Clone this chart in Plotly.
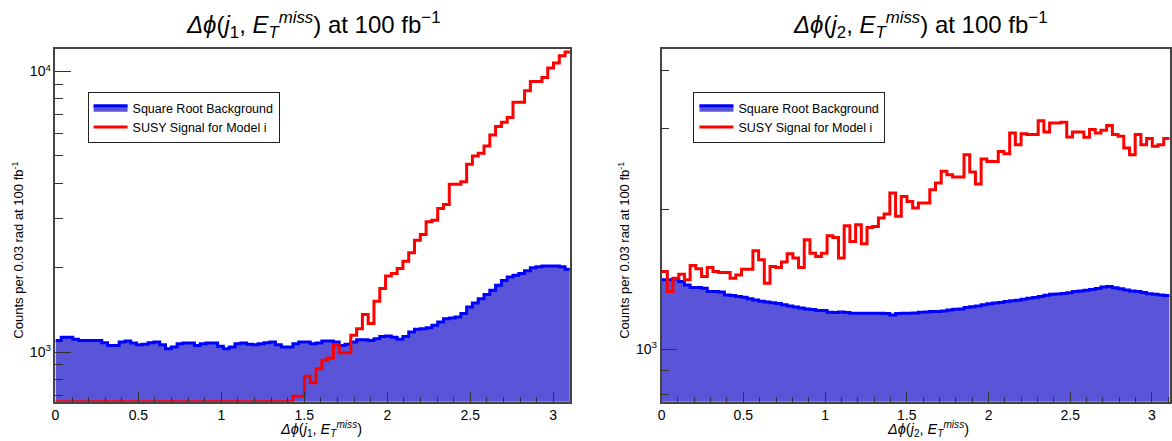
import numpy as np
import plotly.graph_objects as go

W, H = 1172, 441

# Histogram binning: 90 bins over [0, pi]; the axis is cut at ~3.1 rad
N_BINS = 90
BIN_W = np.pi / N_BINS

# Delta phi(j1, MET): background (square root) and signal, counts per bin
bkg_j1 = [
    1100, 1130, 1130, 1110, 1100, 1100, 1100, 1100, 1080, 1056,
    1056, 1085, 1095, 1077, 1062, 1065, 1080, 1085, 1062, 1028,
    1042, 1071, 1077, 1077, 1056, 1071, 1077, 1077, 1048, 1028,
    1042, 1071, 1077, 1065, 1062, 1071, 1080, 1085, 1062, 1042,
    1042, 1071, 1085, 1085, 1071, 1077, 1095, 1095, 1085, 1056,
    1065, 1085, 1106, 1106, 1100, 1116, 1137, 1140, 1128, 1110,
    1137, 1179, 1205, 1211, 1221, 1245, 1280, 1315, 1323, 1333,
    1371, 1448, 1496, 1550, 1602, 1660, 1729, 1798, 1853, 1879,
    1905, 1948, 1997, 2013, 2024, 2024, 2024, 2013, 1973,
]
sig_j1 = [
    0, 0, 0, 0, 0, 0, 0, 0, 0, 0,
    0, 0, 0, 0, 0, 0, 0, 0, 0, 0,
    0, 0, 0, 0, 0, 0, 0, 0, 0, 0,
    0, 0, 0, 0, 0, 0, 0, 0, 0, 0,
    0, 695, 695, 819, 777, 872, 934, 952, 1062, 995,
    995, 1147, 1211, 1360, 1263, 1517, 1684, 1868, 1905, 1984,
    2108, 2257, 2505, 2624, 2912, 2952, 3250, 3359, 3960, 3960,
    4047, 4667, 4998, 5109, 5427, 5940, 6362, 6592, 6850, 7773,
    7773, 8531, 9211, 9211, 9519, 10278, 10710, 11376, 11722,
]

# Delta phi(j2, MET)
bkg_j2 = [
    1412, 1412, 1418, 1400, 1377, 1360, 1359, 1355, 1332, 1332,
    1330, 1310, 1306, 1300, 1295, 1285, 1278, 1270, 1265, 1260,
    1255, 1247, 1240, 1234, 1228, 1222, 1218, 1212, 1212, 1202,
    1200, 1204, 1200, 1196, 1196, 1196, 1196, 1196, 1196, 1194,
    1186, 1194, 1196, 1196, 1198, 1202, 1204, 1206, 1206, 1210,
    1216, 1220, 1222, 1230, 1236, 1240, 1248, 1254, 1258, 1262,
    1268, 1272, 1276, 1282, 1288, 1294, 1300, 1308, 1314, 1316,
    1320, 1325, 1332, 1336, 1340, 1346, 1352, 1362, 1366, 1358,
    1350, 1343, 1336, 1332, 1326, 1318, 1314, 1310, 1306,
]
sig_j2 = [
    1471, 1332, 1423, 1452, 1412, 1516, 1491, 1435, 1501, 1471,
    1464, 1464, 1423, 1447, 1488, 1488, 1631, 1560, 1389, 1508,
    1501, 1542, 1607, 1573, 1501, 1722, 1612, 1586, 1612, 1757,
    1743, 1573, 1847, 1708, 1856, 1688, 1832, 1841, 1919, 1957,
    2173, 1935, 2137, 2084, 2016, 2067, 2067, 2209, 2284, 2420,
    2380, 2352, 2352, 2628, 2412, 2272, 2572, 2542, 2542, 2672,
    2641, 2928, 2763, 2918, 2904, 2904, 3112, 2943, 3077, 3077,
    3087, 2870, 2943, 2943, 2866, 2977, 2928, 2967, 3037, 2904,
    2880, 2717, 2628, 2904, 2763, 2847, 2740, 2763, 2847,
]

x_ticks = [0, 0.5, 1, 1.5, 2, 2.5, 3]
x_ticktext = ["0", "0.5", "1", "1.5", "2", "2.5", "3"]

FONT = "Liberation Sans, Arial, Helvetica, sans-serif"
FILL = "#5a55d8"
BLUE = "#0000ff"
RED = "#ff0000"


def px_x(p):
    return p / W


def px_y(p):
    return 1 - p / H


def step_xy(values, floor):
    v = np.maximum(np.asarray(values, dtype=float), floor)
    n = len(v)
    x = np.arange(n + 1) * BIN_W
    y = np.append(v, v[-1])
    return x, y


panels = [
    dict(bkg=bkg_j1, sig=sig_j1, idx=1, yrange=[2.823, 4.079],
         xdom=[px_x(51.7), px_x(568.7)], xrange=[0, 3.1],
         ymajor=[1000, 10000], ymajor_text=["10<sup>3</sup>", "10<sup>4</sup>"],
         yminor=[700, 800, 900, 2000, 3000, 4000, 5000, 6000, 7000, 8000, 9000],
         jet="1"),
    dict(bkg=bkg_j2, sig=sig_j2, idx=2, yrange=[2.887, 3.647],
         xdom=[px_x(661), 1.0], xrange=[0, (1172 - 661) / 164.3],
         ymajor=[1000], ymajor_text=["10<sup>3</sup>"],
         yminor=[800, 900, 2000, 3000, 4000],
         jet="2"),
]

fig = go.Figure()
layout = dict(
    width=W, height=H,
    margin=dict(l=0, r=0, t=0, b=0),
    paper_bgcolor="white", plot_bgcolor="white",
    font=dict(family=FONT, size=13, color="black"),
    annotations=[],
)

for p in panels:
    i = p["idx"]
    xa = "x" if i == 1 else f"x{i}"
    ya = "y" if i == 1 else f"y{i}"
    leg = "legend" if i == 1 else f"legend{i}"
    floor = 10 ** p["yrange"][0]

    bx, by = step_xy(p["bkg"], floor)
    fig.add_trace(go.Scatter(
        x=bx, y=by, mode="lines", line=dict(shape="hv", color=BLUE, width=3),
        fill="tozeroy", fillcolor=FILL, name="Square Root Background",
        xaxis=xa, yaxis=ya, legend=leg,
    ))
    sx, sy = step_xy(p["sig"], floor)
    fig.add_trace(go.Scatter(
        x=sx, y=sy, mode="lines", line=dict(shape="hv", color=RED, width=3),
        name="SUSY Signal for Model i", xaxis=xa, yaxis=ya, legend=leg,
    ))

    axis_common = dict(showline=True, mirror=True, linecolor="#444", linewidth=1.5,
                       showgrid=False, zeroline=False, ticks="inside",
                       tickcolor="#333", tickwidth=1.2)
    layout["xaxis" if i == 1 else f"xaxis{i}"] = dict(
        axis_common, domain=p["xdom"], range=p["xrange"], anchor=ya,
        tickvals=x_ticks, ticktext=x_ticktext, ticklen=10,
        tickfont=dict(family=FONT, size=14),
        minor=dict(ticks="inside", dtick=0.1, ticklen=5, tickcolor="#333", tickwidth=1.2),
    )
    layout["yaxis" if i == 1 else f"yaxis{i}"] = dict(
        axis_common, domain=[px_y(401.7), px_y(49.3)], type="log", range=p["yrange"],
        anchor=xa, tickvals=p["ymajor"], ticktext=p["ymajor_text"], ticklen=16,
        tickfont=dict(family=FONT, size=14),
        minor=dict(ticks="inside", tickvals=p["yminor"], ticklen=8, tickcolor="#333", tickwidth=1.2),
    )

    x0 = p["xdom"][0] * W
    legend_left = 84 if i == 1 else 693
    layout[leg] = dict(
        x=px_x(legend_left), y=px_y(92), xanchor="left", yanchor="top",
        bgcolor="white", bordercolor="#222", borderwidth=1,
        font=dict(family=FONT, size=12.5, color="black"),
        itemwidth=34, tracegroupgap=0,
    )

    center = 311 if i == 1 else 921
    layout["annotations"] += [
        dict(text=f"<i>Δϕ</i>(<i>j</i><sub>{p['jet']}</sub>, <i>E</i><sub><i>T</i></sub><sup><i>miss</i></sup>) at 100 fb<sup>−1</sup>",
             x=px_x(center), y=px_y(25), xref="paper", yref="paper",
             xanchor="center", yanchor="middle", showarrow=False,
             font=dict(family=FONT, size=24, color="black")),
        dict(text=f"<i>Δϕ</i>(<i>j</i><sub>{p['jet']}</sub>, <i>E</i><sub><i>T</i></sub><sup><i>miss</i></sup>)",
             x=px_x(center + 8), y=px_y(429), xref="paper", yref="paper",
             xanchor="center", yanchor="middle", showarrow=False,
             font=dict(family=FONT, size=14.5, color="black")),
        dict(text="Counts per 0.03 rad at 100 fb<sup>-1</sup>",
             x=px_x(x0 - 38), y=px_y(250), xref="paper", yref="paper",
             xanchor="center", yanchor="middle", showarrow=False, textangle=-90,
             font=dict(family=FONT, size=13, color="black")),
    ]

fig.update_layout(**layout)
fig.write_html("out.html")
